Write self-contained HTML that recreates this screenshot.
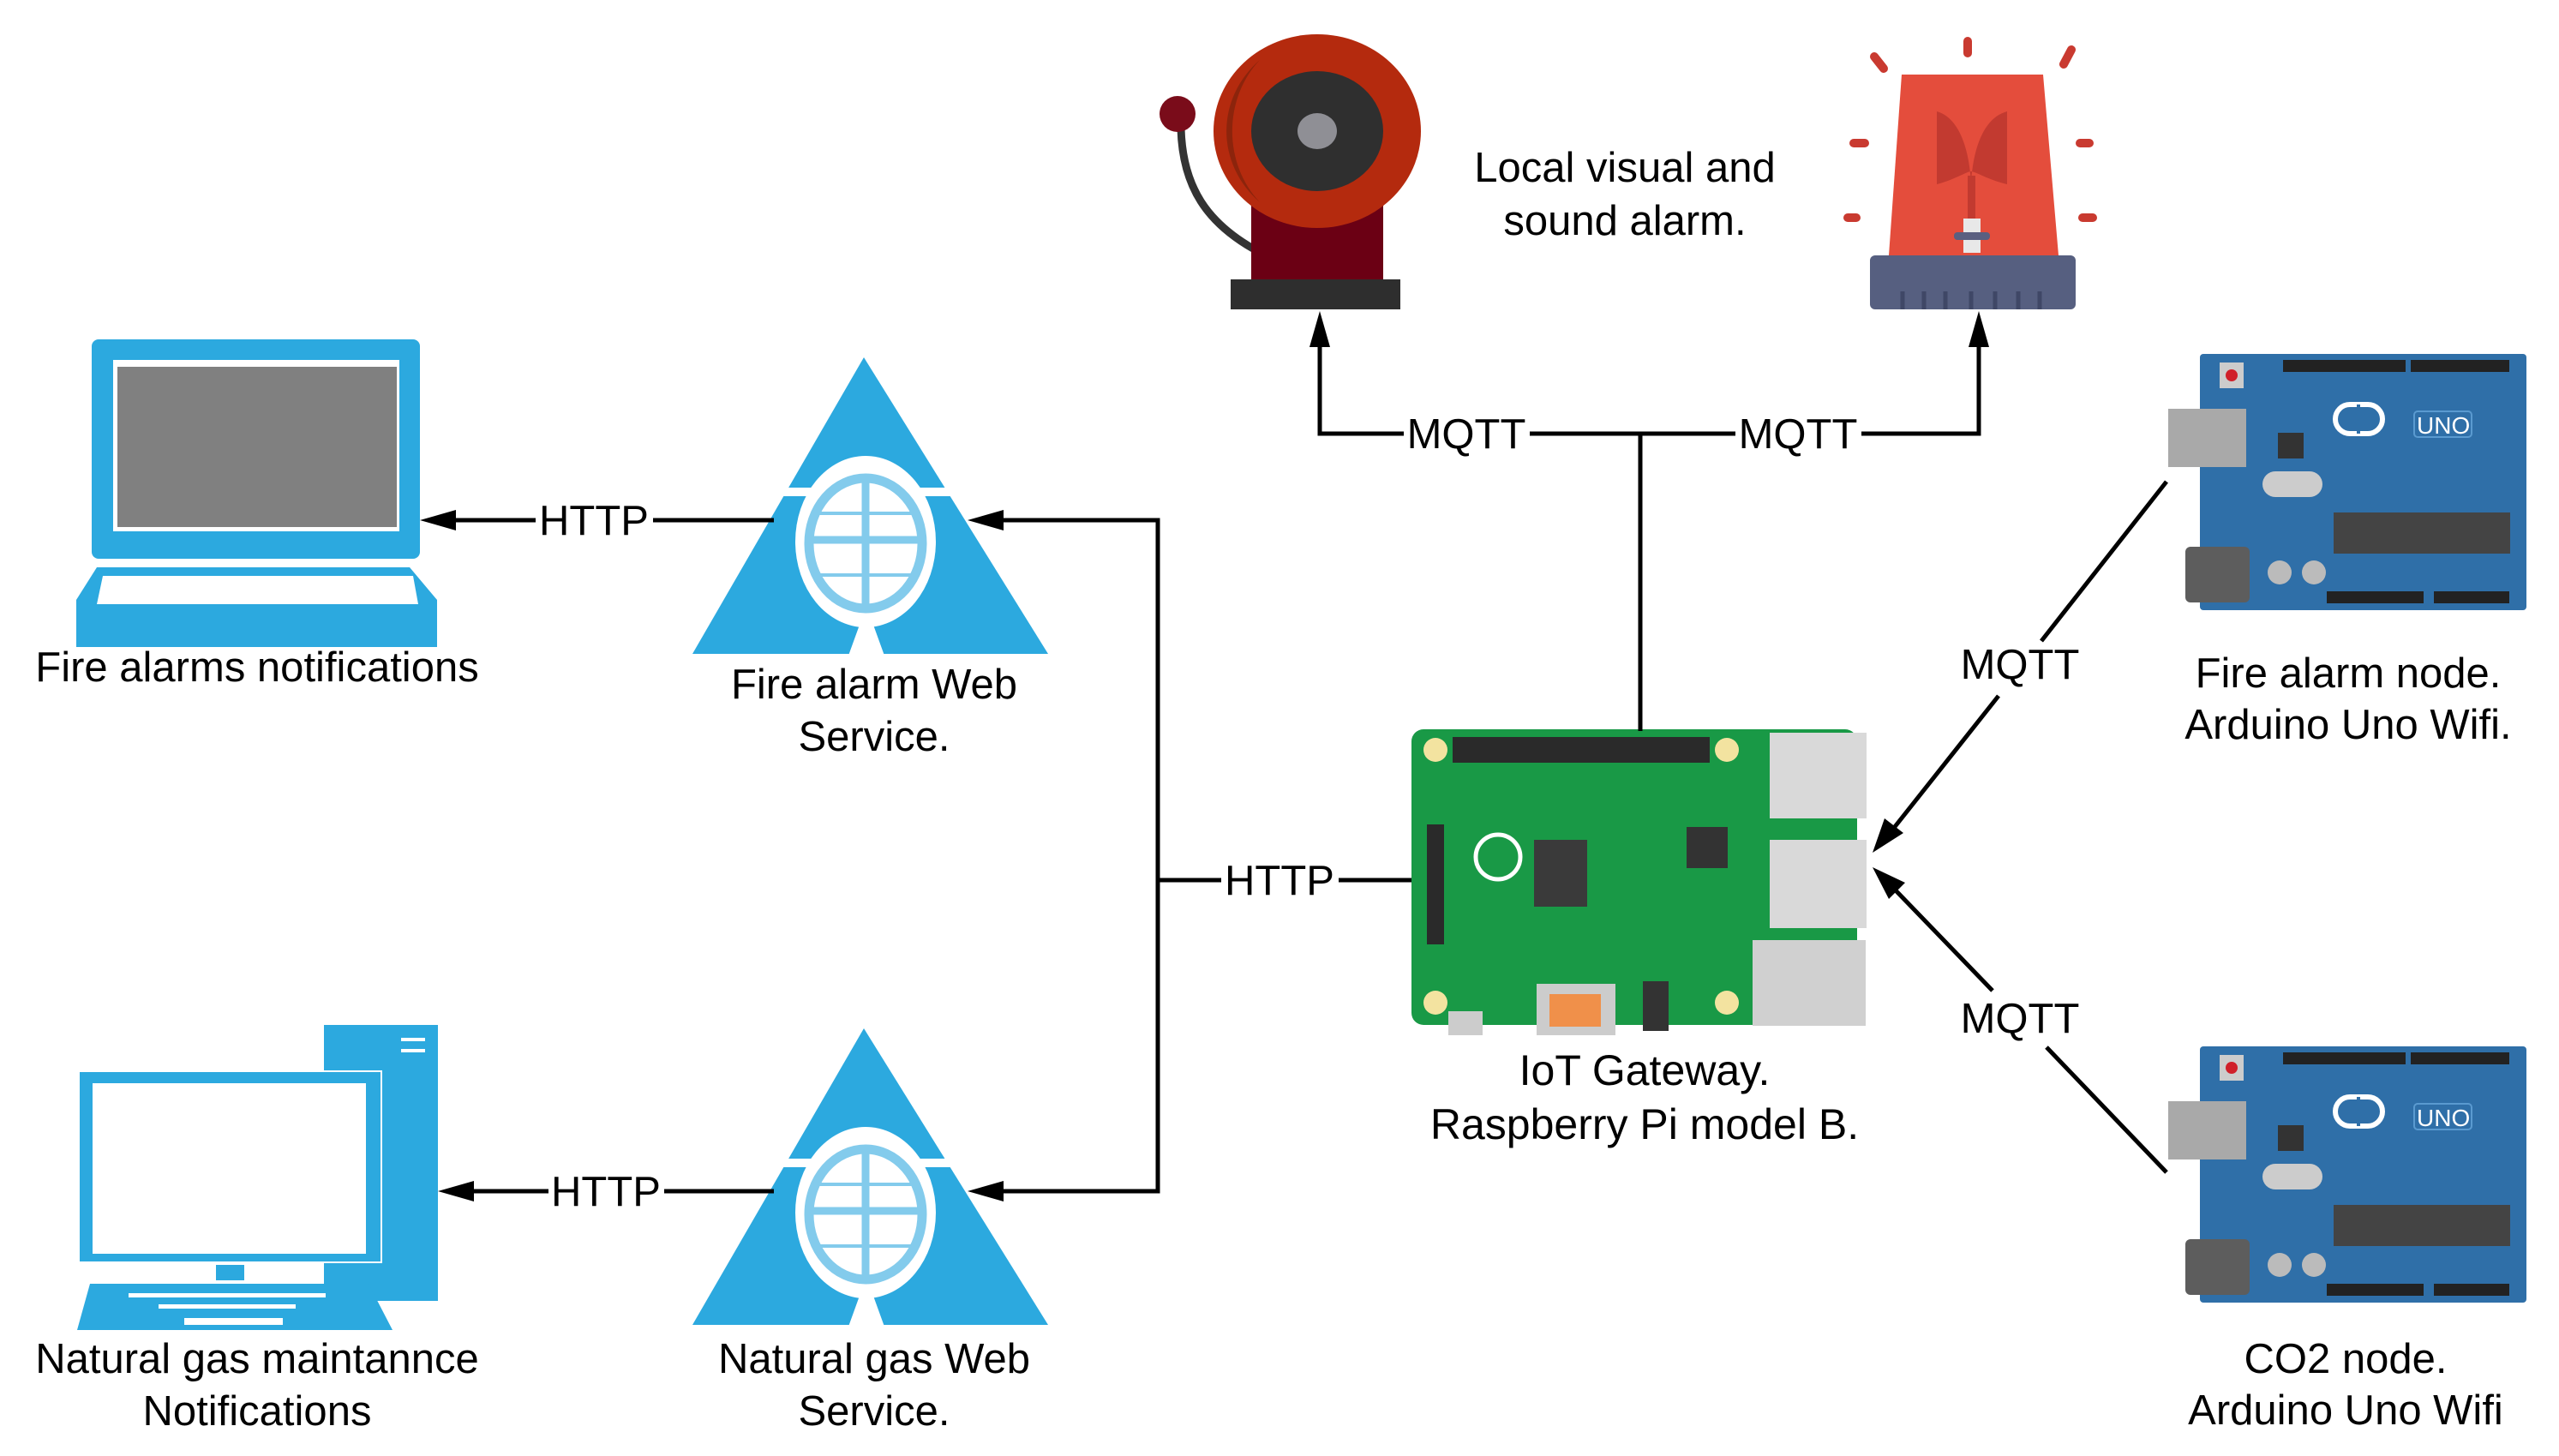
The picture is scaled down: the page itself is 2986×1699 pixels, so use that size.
<!DOCTYPE html>
<html><head><meta charset="utf-8"><style>html,body{margin:0;padding:0;background:#fff}svg{display:block}text{font-family:"Liberation Sans",Arial,sans-serif;fill:#000}</style></head>
<body>
<svg width="2986" height="1699" viewBox="0 0 2986 1699" xmlns="http://www.w3.org/2000/svg">
<defs>
<g id="ws">
  <polygon points="1008,1200 808,1546 1223,1546" fill="#2ca9df"/>
  <rect x="900" y="1352" width="220" height="10" fill="#fff"/>
  <ellipse cx="1010" cy="1415" rx="82" ry="100" fill="#fff"/>
  <polygon points="990,1548 1032,1548 1011,1490" fill="#fff"/>
  <ellipse cx="1010" cy="1417" rx="66" ry="76" fill="#fff" stroke="#83cbec" stroke-width="11"/>
  <line x1="1010" y1="1341" x2="1010" y2="1493" stroke="#83cbec" stroke-width="9"/>
  <line x1="948" y1="1382" x2="1072" y2="1382" stroke="#83cbec" stroke-width="4"/>
  <line x1="945" y1="1413" x2="1075" y2="1413" stroke="#83cbec" stroke-width="9"/>
  <line x1="950" y1="1454" x2="1070" y2="1454" stroke="#83cbec" stroke-width="4"/>
</g>
<g id="ard">
  <rect x="2567" y="413" width="381" height="299" fill="#2f6fa8" rx="4"/>
  <rect x="2530" y="477" width="91" height="68" fill="#a9a9a9"/>
  <rect x="2550" y="638" width="75" height="65" fill="#5d5d5d" rx="6"/>
  <rect x="2590" y="423" width="28" height="30" fill="#ccc"/>
  <circle cx="2604" cy="438" r="7" fill="#d0202a"/>
  <rect x="2664" y="420" width="143" height="14" fill="#222"/>
  <rect x="2813" y="420" width="115" height="14" fill="#222"/>
  <rect x="2725" y="472" width="55" height="34" rx="17" fill="none" stroke="#fff" stroke-width="6"/>
  <line x1="2752" y1="472" x2="2752" y2="506" stroke="#2f6fa8" stroke-width="4"/>
  <rect x="2817" y="480" width="67" height="30" fill="none" stroke="#5a9ad0" stroke-width="2" rx="4"/>
  <text x="2820" y="506" font-size="28" style="fill:#fff">UNO</text>
  <rect x="2658" y="505" width="30" height="30" fill="#333"/>
  <rect x="2640" y="550" width="70" height="30" fill="#ccc" rx="15"/>
  <rect x="2723" y="598" width="206" height="48" fill="#444"/>
  <circle cx="2660" cy="668" r="14" fill="#bbb"/>
  <circle cx="2700" cy="668" r="14" fill="#bbb"/>
  <rect x="2715" y="690" width="113" height="14" fill="#222"/>
  <rect x="2840" y="690" width="88" height="14" fill="#222"/>
</g>
</defs>

<rect x="107" y="396" width="383" height="256" rx="8" fill="#2ca9df"/>
<rect x="132" y="420" width="334" height="200" fill="#fff"/>
<rect x="137" y="428" width="326" height="187" fill="#808080"/>
<polygon points="113,662 478,662 510,700 510,755 89,755 89,700" fill="#2ca9df"/>
<polygon points="120,672 482,672 488,705 113,705" fill="#fff"/>
<text x="300" y="795" font-size="49" text-anchor="middle">Fire alarms notifications</text>

<rect x="378" y="1196" width="133" height="322" fill="#2ca9df"/>
<rect x="468" y="1211" width="28" height="4" fill="#fff"/>
<rect x="468" y="1224" width="28" height="4" fill="#fff"/>
<rect x="92" y="1250" width="353" height="223" fill="#2ca9df" stroke="#fff" stroke-width="2"/>
<rect x="108" y="1264" width="319" height="199" fill="#fff"/>
<rect x="252" y="1476" width="33" height="18" fill="#2ca9df"/>
<polygon points="105,1498 430,1498 458,1552 90,1552" fill="#2ca9df"/>
<rect x="215" y="1538" width="115" height="8" fill="#fff"/>
<g fill="#fff"><rect x="150" y="1509" width="230" height="5"/><rect x="185" y="1522" width="160" height="5"/></g>
<text x="300" y="1602" font-size="49" text-anchor="middle">Natural gas maintannce</text>
<text x="300" y="1663" font-size="49" text-anchor="middle">Notifications</text>

<use href="#ws" transform="translate(0,-783)"/>
<use href="#ws"/>
<text x="1020" y="815" font-size="49" text-anchor="middle">Fire alarm Web</text>
<text x="1020" y="876" font-size="49" text-anchor="middle">Service.</text>
<text x="1020" y="1602" font-size="49" text-anchor="middle">Natural gas Web</text>
<text x="1020" y="1663" font-size="49" text-anchor="middle">Service.</text>

<path d="M1378,150 C1380,220 1410,260 1462,290" fill="none" stroke="#333" stroke-width="9"/>
<circle cx="1374" cy="133" r="21" fill="#7a0c1a"/>
<rect x="1460" y="230" width="154" height="98" fill="#6b0014"/>
<ellipse cx="1537" cy="153" rx="121" ry="113" fill="#b42a0e"/>
<path d="M1470,70 A121,113 0 0,0 1470,236 A100,113 0 0,1 1470,70Z" fill="#8c240c"/>
<ellipse cx="1537" cy="153" rx="77" ry="70" fill="#2f2f2f"/>
<ellipse cx="1537" cy="153" rx="23" ry="21" fill="#8f8f95"/>
<rect x="1436" y="326" width="198" height="35" fill="#2e2e2e"/>

<text x="1896" y="212" font-size="49" text-anchor="middle">Local visual and</text>
<text x="1896" y="274" font-size="49" text-anchor="middle">sound alarm.</text>

<polygon points="2219,87 2384,87 2402,298 2204,298" fill="#e44d3c"/>
<path d="M2260,130 C2295,140 2300,200 2300,220 C2300,200 2305,140 2342,130 L2342,215 C2320,210 2305,200 2300,200 C2295,200 2280,210 2260,215Z" fill="#c23a30"/>
<rect x="2296" y="205" width="9" height="50" fill="#c23a30"/>
<rect x="2291" y="255" width="20" height="40" fill="#e8e8e8"/>
<rect x="2280" y="271" width="42" height="9" fill="#5a5f80" rx="4"/>
<rect x="2182" y="298" width="240" height="63" rx="6" fill="#565f80"/>
<g stroke="#3f4766" stroke-width="5"><line x1="2220" y1="340" x2="2220" y2="361"/><line x1="2245" y1="340" x2="2245" y2="361"/><line x1="2270" y1="340" x2="2270" y2="361"/><line x1="2300" y1="340" x2="2300" y2="361"/><line x1="2328" y1="340" x2="2328" y2="361"/><line x1="2355" y1="340" x2="2355" y2="361"/><line x1="2380" y1="340" x2="2380" y2="361"/></g>
<g stroke="#c93a30" stroke-width="10" stroke-linecap="round"><line x1="2296" y1="48" x2="2296" y2="62"/><line x1="2187" y1="66" x2="2198" y2="80"/><line x1="2417" y1="58" x2="2408" y2="75"/><line x1="2163" y1="167" x2="2176" y2="167"/><line x1="2427" y1="167" x2="2438" y2="167"/><line x1="2156" y1="254" x2="2166" y2="254"/><line x1="2430" y1="254" x2="2442" y2="254"/></g>

<rect x="1647" y="851" width="520" height="345" rx="14" fill="#199946"/>
<g fill="#f3e3a0"><circle cx="1675" cy="875" r="14"/><circle cx="2015" cy="875" r="14"/><circle cx="1675" cy="1170" r="14"/><circle cx="2015" cy="1170" r="14"/></g>
<rect x="1695" y="860" width="300" height="30" fill="#2a2a2a"/>
<rect x="2065" y="855" width="113" height="100" fill="#d9d9d9"/>
<rect x="2065" y="980" width="113" height="103" fill="#d9d9d9"/>
<rect x="2045" y="1097" width="132" height="100" fill="#d0d0d0"/>
<rect x="1790" y="980" width="62" height="78" fill="#3a3a3a"/>
<rect x="1968" y="965" width="48" height="48" fill="#333"/>
<rect x="1665" y="962" width="20" height="140" fill="#2a2a2a"/>
<rect x="1793" y="1148" width="92" height="60" fill="#ccc"/>
<rect x="1808" y="1160" width="60" height="38" fill="#f0904a"/>
<rect x="1917" y="1145" width="30" height="58" fill="#333"/>
<rect x="1690" y="1180" width="40" height="28" fill="#ccc"/>
<circle cx="1748" cy="1000" r="26" fill="none" stroke="#fff" stroke-width="5"/>
<text x="1919" y="1266" font-size="50" text-anchor="middle">IoT Gateway.</text>
<text x="1919" y="1329" font-size="50" text-anchor="middle">Raspberry Pi model B.</text>

<use href="#ard"/>
<use href="#ard" transform="translate(0,808)"/>
<text x="2740" y="802" font-size="49" text-anchor="middle">Fire alarm node.</text>
<text x="2740" y="862" font-size="49" text-anchor="middle">Arduino Uno Wifi.</text>
<text x="2737" y="1602" font-size="49" text-anchor="middle">CO2 node.</text>
<text x="2737" y="1662" font-size="49" text-anchor="middle">Arduino Uno Wifi</text>

<g stroke="#000" stroke-width="5" fill="none">
  <polyline points="1540,395 1540,506 1638,506"/>
  <line x1="1785" y1="506" x2="2025" y2="506"/>
  <polyline points="2172,506 2309,506 2309,395"/>
  <line x1="1914" y1="506" x2="1914" y2="853"/>
  <line x1="525" y1="607" x2="625" y2="607"/>
  <line x1="762" y1="607" x2="903" y2="607"/>
  <polyline points="1165,607 1351,607 1351,1390 1165,1390"/>
  <line x1="545" y1="1390" x2="640" y2="1390"/>
  <line x1="775" y1="1390" x2="903" y2="1390"/>
  <line x1="1351" y1="1027" x2="1425" y2="1027"/>
  <line x1="1562" y1="1027" x2="1647" y2="1027"/>
  <line x1="2528" y1="562" x2="2382" y2="748"/>
  <line x1="2332" y1="812" x2="2210" y2="966"/>
  <line x1="2528" y1="1368" x2="2388" y2="1222"/>
  <line x1="2325" y1="1156" x2="2210" y2="1037"/>
</g>
<g fill="#000">
  <polygon points="1540,363 1528,405 1552,405"/>
  <polygon points="2309,363 2297,405 2321,405"/>
  <polygon points="490,607 532,595 532,619"/>
  <polygon points="511,1390 553,1378 553,1402"/>
  <polygon points="1129,607 1171,595 1171,619"/>
  <polygon points="1129,1390 1171,1378 1171,1402"/>
  <polygon points="2185,995 2199,955 2221,972"/>
  <polygon points="2185,1012 2223,1030 2204,1049"/>
</g>
<g font-size="49" text-anchor="middle">
  <text x="1711" y="523">MQTT</text>
  <text x="2098" y="523">MQTT</text>
  <text x="693" y="624">HTTP</text>
  <text x="707" y="1407">HTTP</text>
  <text x="1493" y="1044">HTTP</text>
  <text x="2357" y="792">MQTT</text>
  <text x="2357" y="1205">MQTT</text>
</g>
</svg>
</body></html>
